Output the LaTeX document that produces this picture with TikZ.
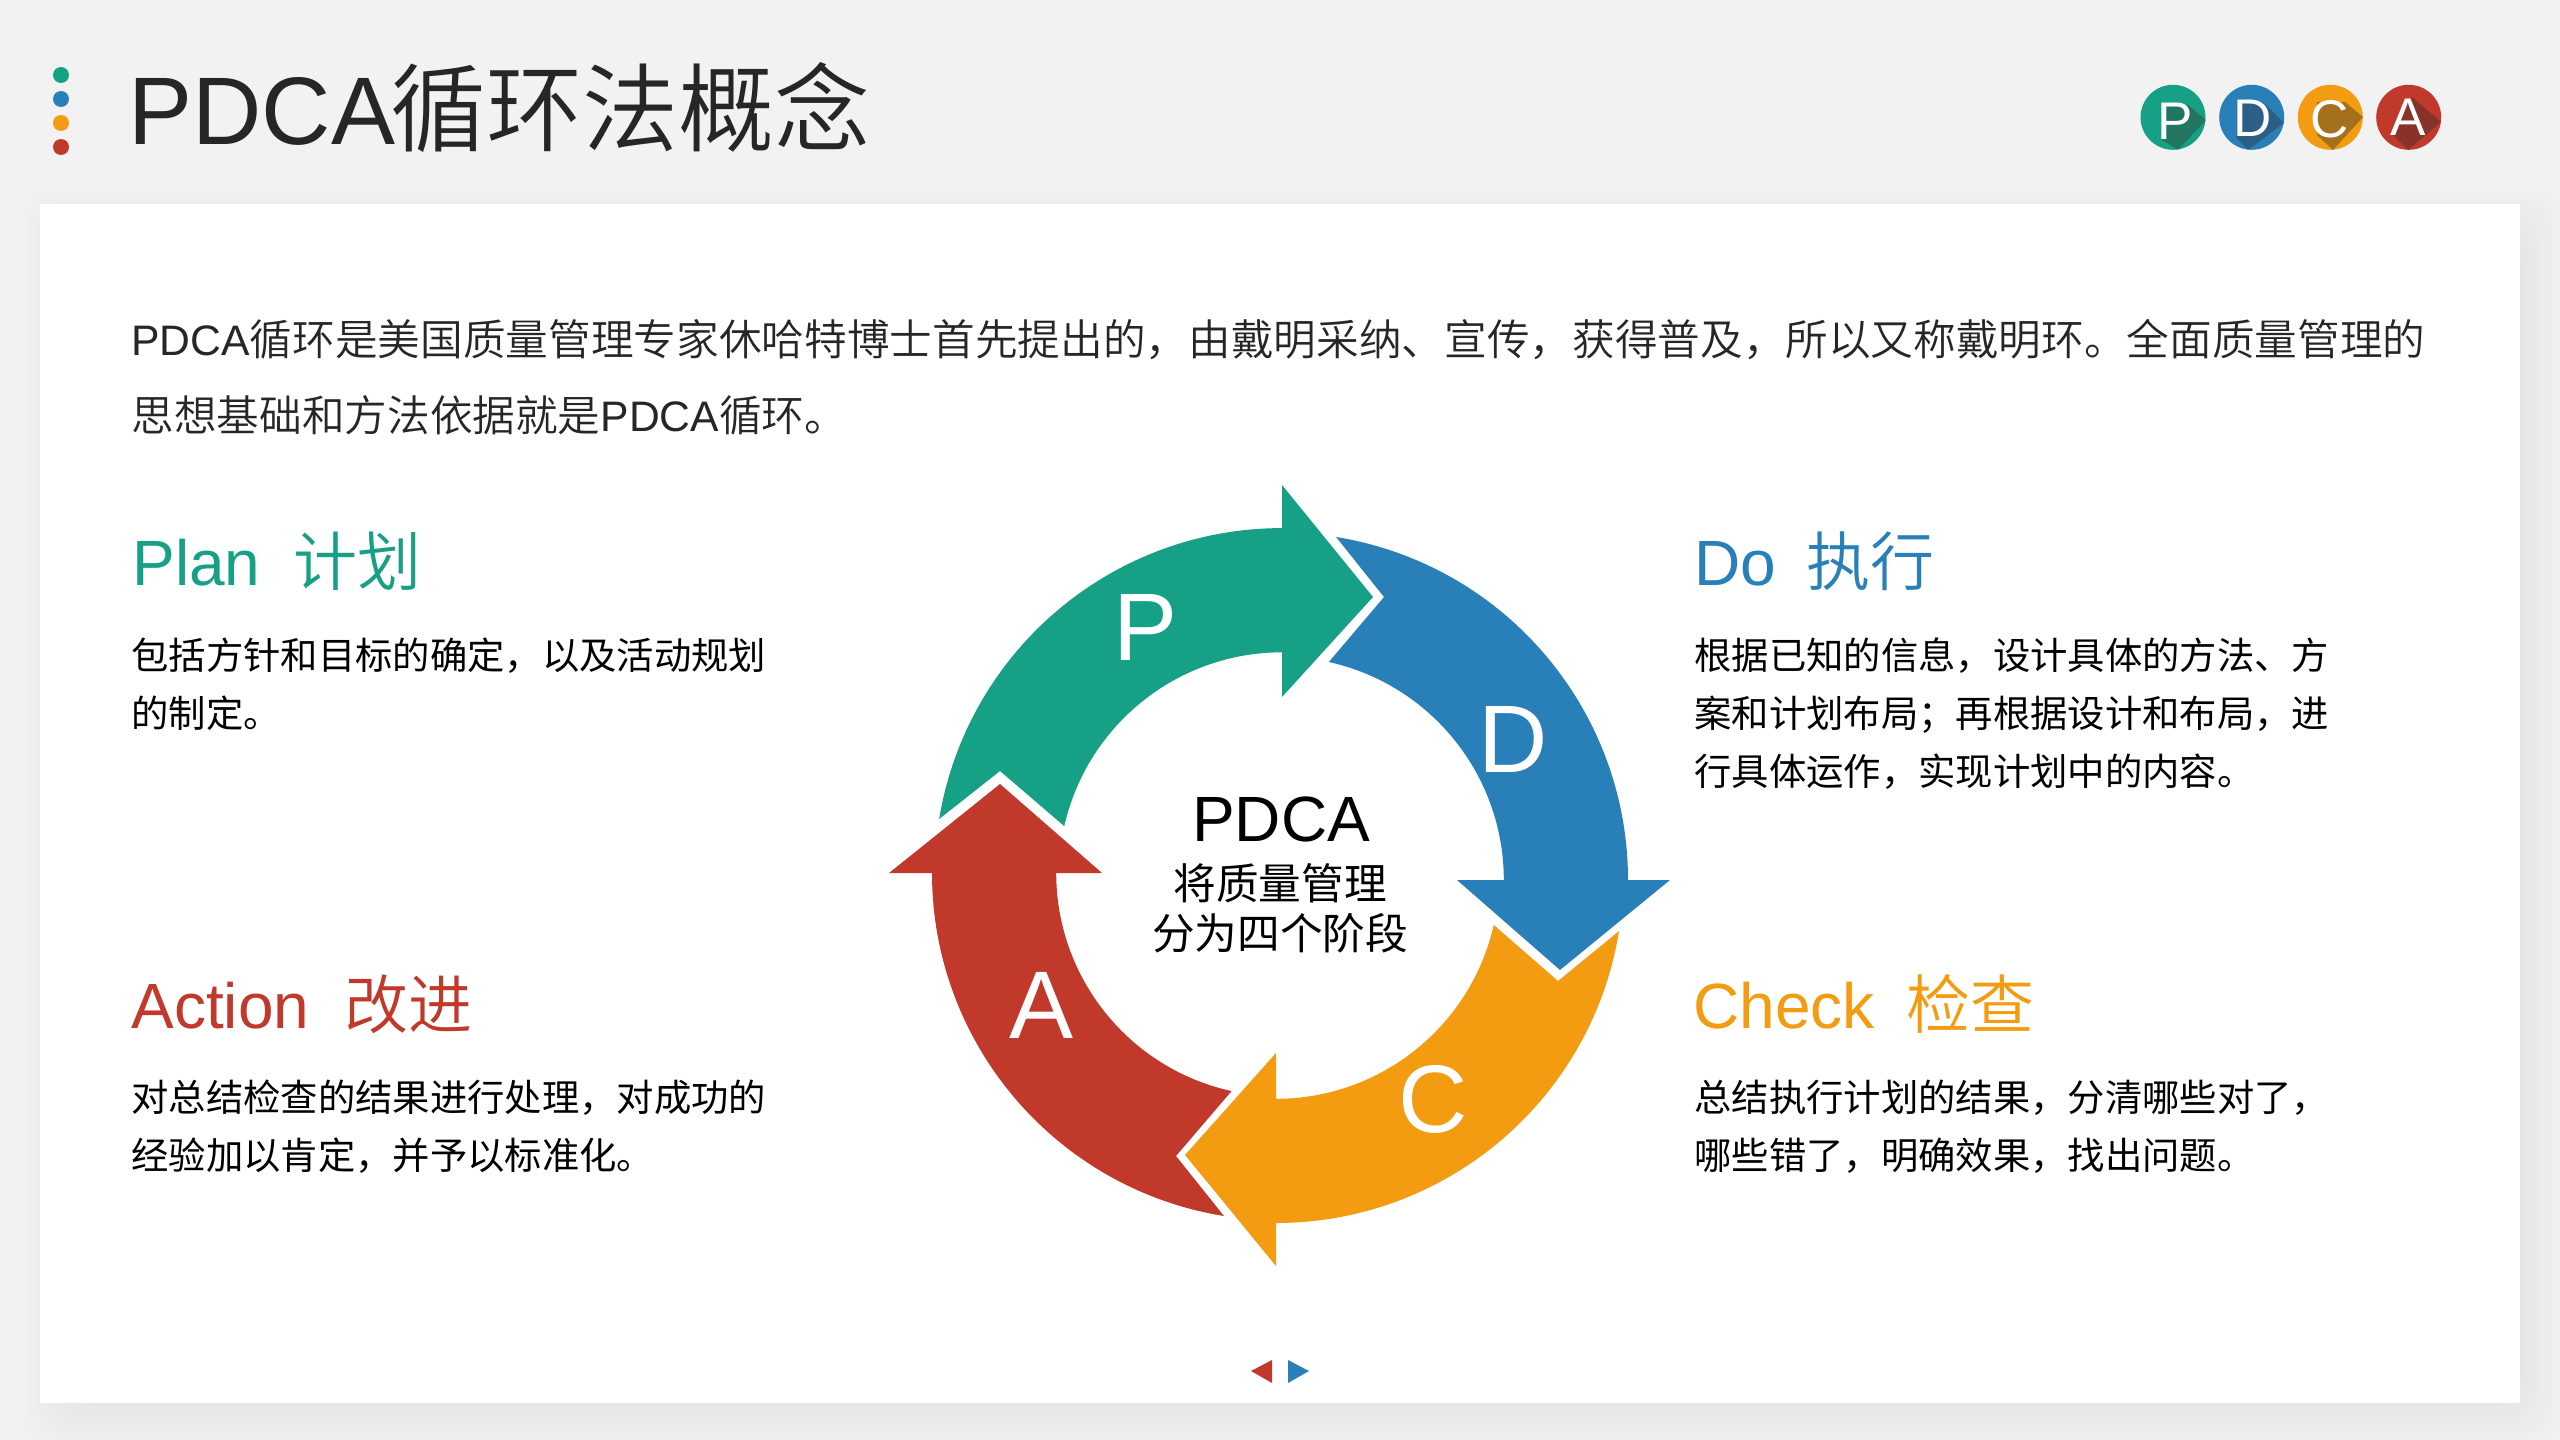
\documentclass[tikz,border=0pt]{standalone}
\usepackage{fontspec}
\setmainfont{Noto Sans CJK SC DemiLight}
\newfontfamily\reg{Noto Sans CJK SC}
\newfontfamily\lat{Liberation Sans}
\definecolor{pgreen}{HTML}{16A085}
\definecolor{dblue}{HTML}{2980B9}
\definecolor{corange}{HTML}{F39C12}
\definecolor{ared}{HTML}{C0392B}
\definecolor{pshade}{HTML}{217561}
\definecolor{dshade}{HTML}{2C5F85}
\definecolor{cshade}{HTML}{A4701C}
\definecolor{ashade}{HTML}{87322A}
\definecolor{ink}{HTML}{262626}
\definecolor{pagebg}{HTML}{F2F2F2}
\definecolor{shadowcore}{HTML}{E5E5E5}
\newcommand{\fs}[1]{\fontsize{#1}{#1}\selectfont}
\tikzset{
  titletext/.style={anchor=base west,inner sep=0pt,text=ink,font=\fs{48}},
  bodytext/.style={anchor=base west,inner sep=0pt,text=ink,font=\fs{21.33}},
  smalltext/.style={anchor=base west,inner sep=0pt,text=black,font=\reg\fs{18.67}},
  headtext/.style={anchor=base west,inner sep=0pt,font=\fs{32}},
  ringletter/.style={inner sep=0pt,text=white,font=\lat\fs{48}},
  badgeletter/.style={inner sep=0pt,text=white,font=\lat\fs{26.5}},
  dot/.style={circle,minimum size=8pt,inner sep=0pt},
  captext/.style={inner sep=0pt,text=black,font=\reg\fs{21.33}},
}
\begin{document}
\begin{tikzpicture}[x=0.5pt,y=-0.5pt]
\useasboundingbox (0,0) rectangle (2560,1440);
\fill[pagebg] (0,0) rectangle (2560,1440);

% soft shadow under the card, outermost ring first
\foreach \g in {48,45,...,0}{
  \pgfmathsetmacro{\mixpct}{100*(48-\g)/48}
  \fill[shadowcore!\mixpct!pagebg,rounded corners=15pt]
    (40+28-\g,204+28-\g) rectangle (2520+\g,1403+\g);
}
\fill[white] (40,204) rectangle (2520,1403);

% heading with its column of dots
\node[dot,fill=pgreen]  (d1) at (61,75) {};
\node[dot,fill=dblue]   (d2) at (61,99) {};
\node[dot,fill=corange] (d3) at (61,123) {};
\node[dot,fill=ared]    (d4) at (61,147) {};
\node[titletext] (title) at (128,144) {{\lat PDCA}\kern-2.5pt 循环法概念};

% badges with long shadows
\begin{scope}
  \clip (2173,117.3) circle (32.5);
  \fill[pgreen] (2130,70) rectangle (2220,165);
  \fill[pshade] (2162,140) -- (2178,150) -- (2206,120) -- (2188,105) -- (2163,102) -- cycle;
\end{scope}
\node[badgeletter] (bp) at (2175,120.8) {P};
\begin{scope}
  \clip (2251.7,117.3) circle (32.5);
  \fill[dblue] (2210,70) rectangle (2300,165);
  \fill[dshade] (2236.7,138.3) -- (2248,150) -- (2284,123) -- (2263,102) -- (2237,99) -- cycle;
\end{scope}
\node[badgeletter] (bd) at (2253,118.3) {D};
\begin{scope}
  \clip (2330.3,117.3) circle (32.5);
  \fill[corange] (2290,70) rectangle (2380,165);
  \fill[cshade] (2317,135) -- (2333,150) -- (2363,117) -- (2345,102) -- (2317,102) -- cycle;
\end{scope}
\node[badgeletter] (bc) at (2330,119) {C};
\begin{scope}
  \clip (2408.7,117.3) circle (32.5);
  \fill[ared] (2370,70) rectangle (2450,165);
  \fill[ashade] (2393,135) -- (2408,150) -- (2441,122) -- (2412,97) -- cycle;
\end{scope}
\node[badgeletter] (ba) at (2408.3,117) {A};

% intro paragraph
\node[bodytext] (intro1) at (131,355) {{\lat PDCA}循环是美国质量管理专家休哈特博士首先提出的，由戴明采纳、宣传，获得普及，所以又称戴明环。全面质量管理的};
\node[bodytext] (intro2) at (131,431) {思想基础和方法依据就是{\lat PDCA}循环。};

% four stage blocks
\node[headtext,text=pgreen] (planh) at (132,585) {{\lat Plan}\hspace{0.52em}计划};
\node[smalltext] (plan1) at (131,669.5) {包括方针和目标的确定，以及活动规划};
\node[smalltext] (plan2) at (131,727.5) {的制定。};

\node[headtext,text=dblue] (doh) at (1694,585) {{\lat Do}\hspace{0.47em}执行};
\node[smalltext] (do1) at (1694,669.5) {根据已知的信息，设计具体的方法、方};
\node[smalltext] (do2) at (1694,727.5) {案和计划布局；再根据设计和布局，进};
\node[smalltext] (do3) at (1694,785.5) {行具体运作，实现计划中的内容。};

\node[headtext,text=ared] (acth) at (131,1028) {{\lat Action}\hspace{0.55em}改进};
\node[smalltext] (act1) at (131,1111) {对总结检查的结果进行处理，对成功的};
\node[smalltext] (act2) at (131,1169) {经验加以肯定，并予以标准化。};

\node[headtext,text=corange] (chkh) at (1693,1028) {{\lat Check}\hspace{0.5em}检查};
\node[smalltext] (chk1) at (1694,1111) {总结执行计划的结果，分清哪些对了，};
\node[smalltext] (chk2) at (1694,1169) {哪些错了，明确效果，找出问题。};

% PDCA ring: four curved arrows, each with its own arc centre
\coordinate (cp) at (1282,875.6);
\coordinate (cd) at (1280.5,880);
\coordinate (cc) at (1276,875.5);
\coordinate (ca) at (1279.5,873);
\fill[pgreen] ([shift={(189.37:347.5)}]cp) arc[start angle=189.37,end angle=270,radius=347.5]
  -- (1282,485) -- (1373,597) -- (1282,697) -- ([shift={(270:223.3)}]cp)
  arc[start angle=270,end angle=192.8,radius=223.3] -- (1000,771) -- cycle;
\fill[dblue] ([shift={(279.2:347.5)}]cd) arc[start angle=279.2,end angle=360,radius=347.5]
  -- (1670,880) -- (1560,970) -- (1457,880) -- ([shift={(0:223.3)}]cd)
  arc[start angle=360,end angle=282.5,radius=223.3] -- (1384,597) -- cycle;
\fill[corange] ([shift={(9.2:347.5)}]cc) arc[start angle=9.2,end angle=90,radius=347.5]
  -- (1276,1266) -- (1185,1155) -- (1276,1053) -- ([shift={(90:223.3)}]cc)
  arc[start angle=90,end angle=12.8,radius=223.3] -- (1558,981) -- cycle;
\fill[ared] ([shift={(99.2:347.5)}]ca) arc[start angle=99.2,end angle=180,radius=347.5]
  -- (889,873) -- (1000,784) -- (1102,873) -- ([shift={(180:223.3)}]ca)
  arc[start angle=180,end angle=102.4,radius=223.3] -- (1176,1156) -- cycle;

\node[ringletter] (lp) at (1146,627) {P};
\node[ringletter] (ld) at (1513,739) {D};
\node[ringletter] (lc) at (1433,1099) {C};
\node[ringletter] (la) at (1042,1005) {A};

% centre caption
\node[inner sep=0pt,text=black,font=\lat\fs{32}] (cap1) at (1281,819) {PDCA};
\node[captext] (cap2) at (1280,883) {将质量管理};
\node[captext] (cap3) at (1280,933) {分为四个阶段};

% page markers
\fill[ared] (1272,1360) -- (1251,1371) -- (1272,1383) -- cycle;
\fill[dblue] (1288,1360) -- (1309,1371) -- (1288,1383) -- cycle;
\end{tikzpicture}
\end{document}
